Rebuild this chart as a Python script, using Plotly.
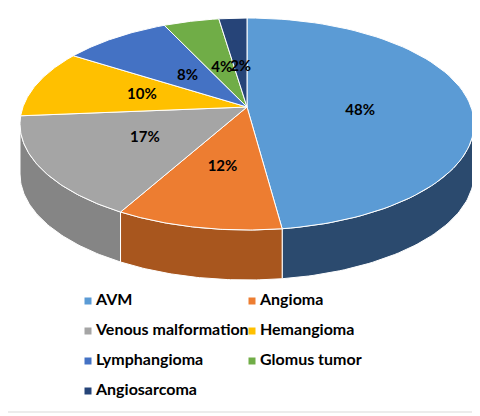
import numpy as np
import plotly.graph_objects as go

labels = ["AVM", "Angioma", "Venous malformation", "Hemangioma", "Lymphangioma", "Glomus tumor", "Angiosarcoma"]
values = [48, 12, 17, 10, 8, 4, 2]
colors = ["#5B9BD5", "#ED7D31", "#A5A5A5", "#FFC000", "#4472C4", "#70AD47", "#264478"]
side_colors = ["#2B4A6E", "#A8561E", "#858585", "#B38600", "#2F5597", "#4E7A31", "#1A2F52"]

# geometry (pixel space)
cx, cy, rx, ry = 247, 124, 227, 106
ax_, ay_ = 247, 107
depth = 50
FONT = "Lato"

def pt(theta_deg):
    t = np.radians(theta_deg)
    return cx + rx * np.sin(t), cy - ry * np.cos(t)

fig = go.Figure()
total = sum(values)
angles = np.cumsum([0] + [v / total * 360 for v in values])

# side walls
for i in range(len(values)):
    a, b = max(angles[i], 90), min(angles[i + 1], 270)
    if b <= a:
        continue
    th = np.linspace(a, b, 60)
    xs, ys = pt(th)
    px = list(xs) + list(xs[::-1]) + [xs[0]]
    py = list(ys) + list((ys + depth)[::-1]) + [ys[0]]
    fig.add_trace(go.Scatter(x=px, y=py, mode="lines", fill="toself", fillcolor=side_colors[i],
                             line=dict(color="white", width=1), hoverinfo="skip", showlegend=False))

# top faces
for i in range(len(values)):
    th = np.linspace(angles[i], angles[i + 1], 80)
    xs, ys = pt(th)
    px = [ax_] + list(xs) + [ax_]
    py = [ay_] + list(ys) + [ay_]
    fig.add_trace(go.Scatter(x=px, y=py, mode="lines", fill="toself", fillcolor=colors[i],
                             line=dict(color="white", width=1), hoverinfo="skip", showlegend=False))

# labels
lx, ly = [], []
for i in range(len(values)):
    mx, my = pt((angles[i] + angles[i + 1]) / 2)
    f = 0.5 if values[i] >= 10 else 0.45
    lx.append(ax_ + f * (mx - ax_))
    ly.append(ay_ + f * (my - ay_))
fig.add_trace(go.Scatter(x=lx, y=ly, mode="text", text=[f"{v}%" for v in values],
                         textfont=dict(family=FONT, size=15, color="black", weight="bold"),
                         hoverinfo="skip", showlegend=False))

# legend (two columns)
colx = [88, 252]
rowy = [301, 331, 361, 391]
mx_, my_, tx_, ty_ = [], [], [], []
for i, lab in enumerate(labels):
    x0 = colx[i % 2]; y0 = rowy[i // 2]
    mx_.append(x0); my_.append(y0)
    tx_.append(x0 + 8); ty_.append(y0)
fig.add_trace(go.Scatter(x=mx_, y=my_, mode="markers", marker=dict(symbol="square", size=7, color=colors),
                         hoverinfo="skip", showlegend=False))
fig.add_trace(go.Scatter(x=tx_, y=ty_, mode="text", text=labels, textposition="middle right",
                         textfont=dict(family=FONT, size=16, color="black", weight="bold"),
                         hoverinfo="skip", showlegend=False))

fig.add_shape(type="rect", x0=3, y0=3, x1=477, y1=412, line=dict(color="#D9D9D9", width=1))

fig.update_layout(width=480, height=416, margin=dict(l=0, r=0, t=0, b=0),
                  paper_bgcolor="white", plot_bgcolor="white",
                  xaxis=dict(range=[8, 488], visible=False, fixedrange=True),
                  yaxis=dict(range=[424, 8], visible=False, fixedrange=True))
fig.write_html("out.html")
